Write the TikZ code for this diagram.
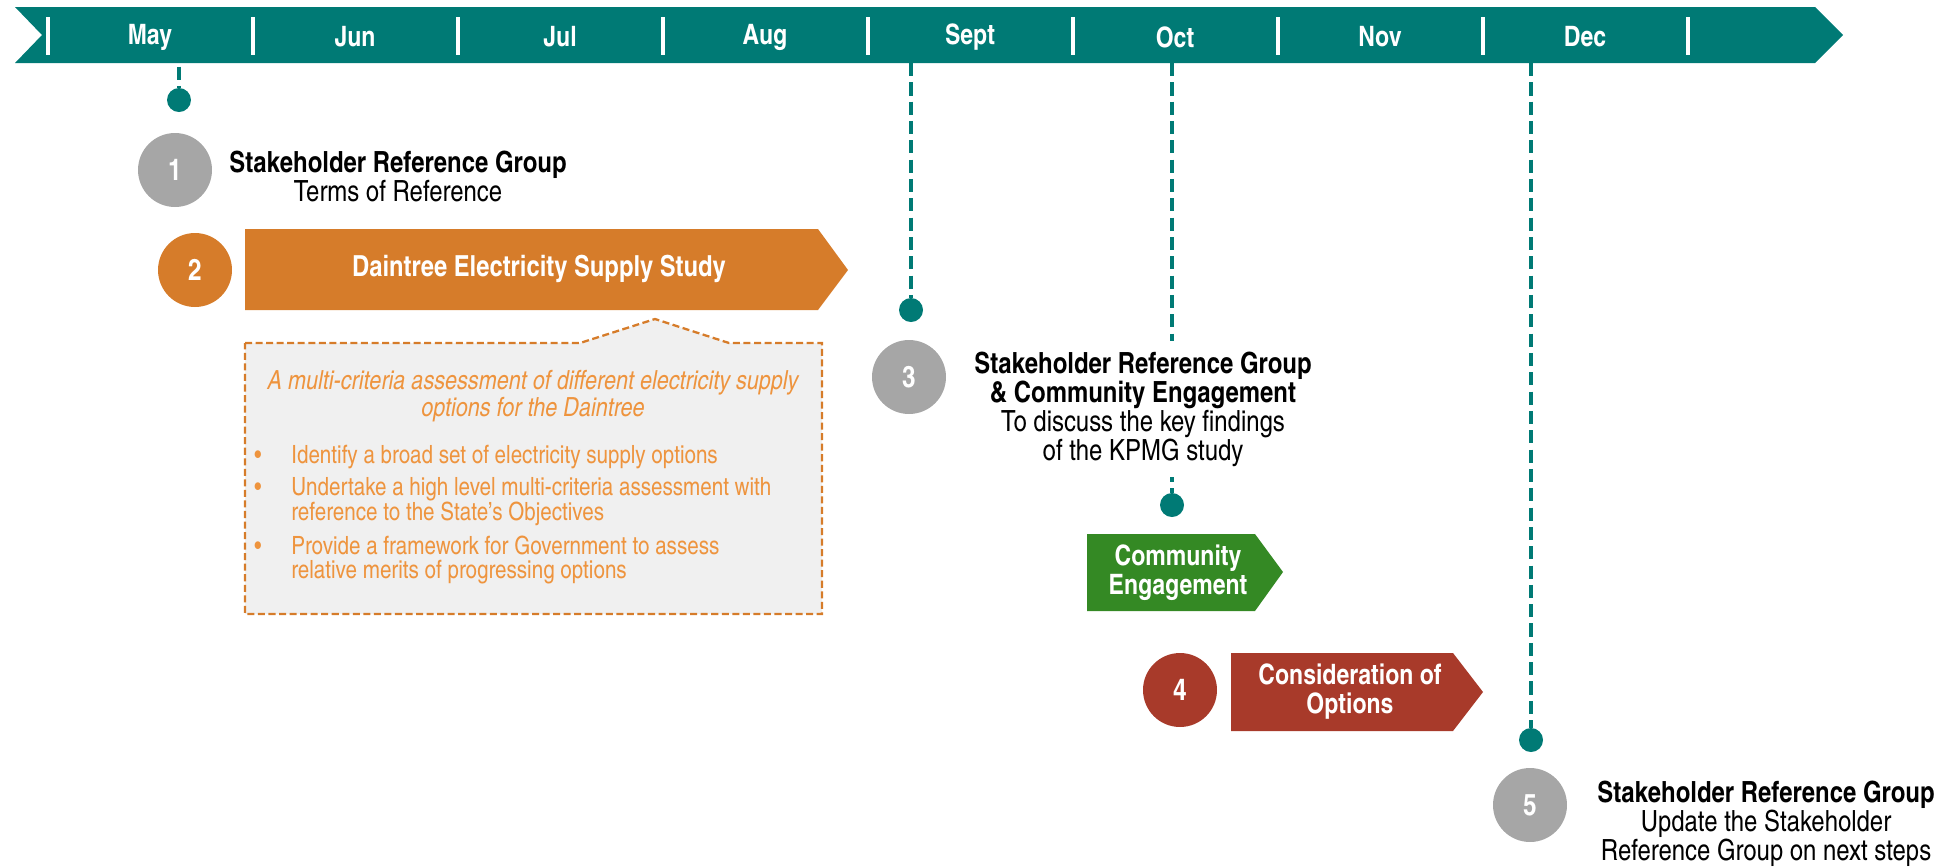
\documentclass[tikz,border=0pt]{standalone}
\usepackage{fontspec}
\setmainfont{texgyreheroscn}[Extension=.otf,UprightFont=*-regular,BoldFont=*-bold,ItalicFont=*-italic,BoldItalicFont=*-bolditalic]
\usepackage{tikz}
\usetikzlibrary{positioning,arrows.meta}

\definecolor{tlteal}{RGB}{0,122,117}
\definecolor{stepgrey}{RGB}{166,166,166}
\definecolor{studyorange}{RGB}{214,124,42}
\definecolor{notetext}{RGB}{238,148,62}
\definecolor{notefill}{RGB}{240,240,240}
\definecolor{engagegreen}{RGB}{52,137,36}
\definecolor{optionsred}{RGB}{168,58,42}

\begin{document}
\begin{tikzpicture}[x=0.02cm,y=-0.02cm,
  month/.style={text=white,font=\fontsize{16}{18}\selectfont\bfseries},
  stepnum/.style={circle,fill=#1,text=white,minimum size=1.48cm,inner sep=0pt,font=\fontsize{17}{19}\selectfont\bfseries},
  tldot/.style={circle,fill=tlteal,minimum size=0.48cm,inner sep=0pt},
  tlline/.style={tlteal,line width=2.8pt,dash pattern=on 7.5pt off 3.5pt},
  event/.style={align=center,font=\fontsize{16.6}{16.5}\selectfont},
  barlabel/.style={text=white,align=center,font=\fontsize{16.5}{14.2}\selectfont\bfseries},
  twoline/.style={font=\fontsize{16}{16.5}\selectfont\bfseries},
  notehead/.style={text=notetext,align=center,font=\fontsize{15}{13.5}\selectfont\itshape},
  noteitem/.style={text=notetext,align=left,anchor=west,inner sep=0pt,font=\fontsize{14.3}{14.2}\selectfont}]
  \useasboundingbox (0,0) rectangle (1944,867);

  \fill[tlteal] (15,7) -- (1815,7) -- (1843,35) -- (1815,63) -- (15,63) -- (42,35) -- cycle;
  \draw[white,line width=2.3pt] (48,17) -- (48,55) (253,17) -- (253,55) (458,17) -- (458,55)
    (663,17) -- (663,55) (868,17) -- (868,55) (1073,17) -- (1073,55) (1278,17) -- (1278,55)
    (1483,17) -- (1483,55) (1688,17) -- (1688,55);
  \node[month] (may) at (150,37) {May};
  \node[month] (jun) at (355,37) {Jun};
  \node[month] (jul) at (560,37) {Jul};
  \node[month] (aug) at (765,37) {Aug};
  \node[month] (sep) at (970,37) {Sept};
  \node[month] (oct) at (1175,37) {Oct};
  \node[month] (nov) at (1380,37) {Nov};
  \node[month] (dec) at (1585,37) {Dec};

  \coordinate (may-drop) at (179,63);
  \coordinate (sep-drop) at (911,63);
  \coordinate (oct-drop) at (1172,63);
  \coordinate (dec-drop) at (1531,63);
  \node[tldot] (may-dot) at (179,100) {};
  \node[tldot] (sep-dot) at (911,310) {};
  \node[tldot] (oct-dot) at (1172,505) {};
  \node[tldot] (dec-dot) at (1531,740) {};
  \draw[tlline,dash phase=-2pt] (may-drop) -- (may-dot);
  \draw[tlline] (sep-drop) -- (sep-dot);
  \draw[tlline] (oct-drop) -- (oct-dot);
  \draw[tlline] (dec-drop) -- (dec-dot);

  \node[stepnum=stepgrey] (step1) at (175,170) {1};
  \node[event] (srg1) at (398,176) {\textbf{Stakeholder Reference Group}\\Terms of Reference};

  \node[stepnum=studyorange] (step2) at (195,270) {2};
  \fill[studyorange] (245,229) -- (818,229) -- (848,270) -- (818,310) -- (245,310) -- cycle;
  \node[barlabel] (study) at (539,269) {Daintree Electricity Supply Study};

  \filldraw[fill=notefill,draw=studyorange,line width=1.3pt,dash pattern=on 4pt off 2pt]
    (245,343) -- (580,343) -- (655,319) -- (729,343) -- (822,343) -- (822,614) -- (245,614) -- cycle;
  \node[notehead] (scope) at (533,396) {A multi-criteria assessment of different electricity supply\\options for the Daintree};
  \node[text=notetext,font=\fontsize{14}{14}\selectfont] (bul1) at (258,457) {\textbullet};
  \node[text=notetext,font=\fontsize{14}{14}\selectfont] (bul2) at (258,489) {\textbullet};
  \node[text=notetext,font=\fontsize{14}{14}\selectfont] (bul3) at (258,548) {\textbullet};
  \node[noteitem] (item1) at (291,457) {Identify a broad set of electricity supply options};
  \node[noteitem] (item2) at (291,502) {Undertake a high level multi-criteria assessment with\\reference to the State’s Objectives};
  \node[noteitem] (item3) at (291,560) {Provide a framework for Government to assess\\relative merits of progressing options};

  \node[stepnum=stepgrey] (step3) at (909,377) {3};
  \node[event,fill=white,inner sep=6pt] (srg3) at (1143,409) {\textbf{Stakeholder Reference Group}\\\textbf{\& Community Engagement}\\To discuss the key findings\\of the KPMG study};

  \fill[engagegreen] (1087,534) -- (1255,534) -- (1283,572) -- (1255,611) -- (1087,611) -- cycle;
  \node[barlabel,twoline] (engage) at (1178,573) {Community\\Engagement};

  \node[stepnum=optionsred] (step4) at (1180,690) {4};
  \fill[optionsred] (1231,653) -- (1453,653) -- (1483,692) -- (1453,731) -- (1231,731) -- cycle;
  \node[barlabel,twoline] (options) at (1350,692) {Consideration of\\Options};

  \node[stepnum=stepgrey] (step5) at (1530,805) {5};
  \node[event] (srg5) at (1766,824) {\textbf{Stakeholder Reference Group}\\Update the Stakeholder\\Reference Group on next steps};
\end{tikzpicture}
\end{document}
